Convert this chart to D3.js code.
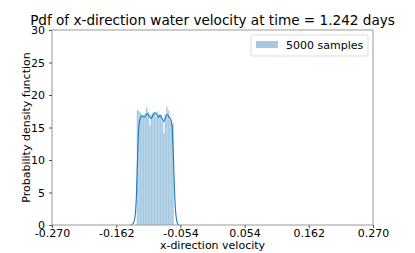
<!DOCTYPE html>
<html>
<head>
<meta charset="utf-8">
<script src="https://cdn.jsdelivr.net/npm/d3@7"></script>
<style>
  body { margin: 0; background: #fff; }
  text { font-family: "DejaVu Sans", sans-serif; fill: #000; }
</style>
</head>
<body>
<svg class="view" width="415" height="253"></svg>
<script>
// histogram bins (density), left edge of first bin and bin width
var binStart = -0.1275,
    binWidth = 0.0026;
var binValues = [17.7, 17.5, 17.3, 17.0, 16.8, 17.2, 18.1, 17.4, 15.4, 17.0, 17.3, 17.1,
                 16.6, 17.5, 16.9, 16.8, 15.9, 14.2, 17.0, 18.2, 17.6, 16.2, 15.8, 15.6];

// kde curve
var kdeX = [-0.1375, -0.133, -0.130, -0.128, -0.126, -0.124, -0.121, -0.118, -0.115, -0.112,
            -0.109, -0.106, -0.103, -0.100, -0.097, -0.094, -0.091, -0.088, -0.085, -0.082,
            -0.079, -0.076, -0.073, -0.070, -0.068, -0.066, -0.064, -0.062, -0.060, -0.058, -0.056];
var kdeY = [0, 0.3, 1.5, 4.5, 10.5, 15.0, 16.5, 16.8, 16.6, 16.9, 17.1, 16.7, 16.4, 16.9, 17.3,
            17.0, 16.6, 16.9, 16.4, 15.9, 16.6, 17.0, 16.6, 16.2, 15.2, 11.0, 5.5, 2.0, 0.6, 0.1, 0];

var xTicks = [-0.270, -0.162, -0.054, 0.054, 0.162, 0.270];
var yTicks = [0, 5, 10, 15, 20, 25, 30];

var svg = d3.select('.view');
var mLeft = 52, mRight = 373, mTop = 30, mBottom = 225;

var x = d3.scaleLinear().domain([-0.27, 0.27]).range([mLeft, mRight]);
var y = d3.scaleLinear().domain([0, 30]).range([mBottom, mTop]);

// bars
svg.append('g')
    .selectAll('rect')
    .data(binValues)
    .enter().append('rect')
    .attr('x', function (d, i) { return x(binStart + i * binWidth); })
    .attr('width', function (d, i) { return x(binStart + (i + 1) * binWidth) - x(binStart + i * binWidth); })
    .attr('y', function (d) { return y(d); })
    .attr('height', function (d) { return y(0) - y(d); })
    .attr('fill', '#1f77b4')
    .attr('fill-opacity', 0.4)
    .attr('stroke', '#fff')
    .attr('stroke-opacity', 0.35)
    .attr('stroke-width', 0.3);

// kde
var line = d3.line()
    .x(function (d, i) { return x(kdeX[i]); })
    .y(function (d) { return y(d); })
    .curve(d3.curveMonotoneX);
svg.append('path')
    .datum(kdeY)
    .attr('d', line)
    .attr('fill', 'none')
    .attr('stroke', '#1f77b4')
    .attr('stroke-width', 1.1);

// frame
svg.append('rect')
    .attr('x', mLeft).attr('y', mTop)
    .attr('width', mRight - mLeft).attr('height', mBottom - mTop)
    .attr('fill', 'none')
    .attr('stroke', '#999')
    .attr('stroke-width', 1);

// axes
var fmt = d3.format('.3f');
var xAxis = svg.append('g')
    .attr('transform', 'translate(0,' + mBottom + ')')
    .call(d3.axisBottom(x).tickValues(xTicks).tickSize(3).tickSizeOuter(0).tickPadding(1)
        .tickFormat(function (d) { return fmt(d).replace('\u2212', '-'); }));
var yAxis = svg.append('g')
    .attr('transform', 'translate(' + mLeft + ',0)')
    .call(d3.axisLeft(y).tickValues(yTicks).tickSize(3).tickSizeOuter(0));
[xAxis, yAxis].forEach(function (a) {
    a.select('.domain').remove();
    a.selectAll('line').attr('stroke', '#555');
    a.selectAll('text').attr('font-size', 11).attr('font-family', 'DejaVu Sans').attr('fill', '#000');
});
yAxis.selectAll('text').attr('dx', '-0.1em');

// labels
svg.append('text')
    .attr('x', (mLeft + mRight) / 2).attr('y', 25)
    .attr('text-anchor', 'middle')
    .attr('font-size', 13.6)
    .text('Pdf of x-direction water velocity at time = 1.242 days');
svg.append('text')
    .attr('x', (mLeft + mRight) / 2).attr('y', 249)
    .attr('text-anchor', 'middle')
    .attr('font-size', 11)
    .text('x-direction velocity');
svg.append('text')
    .attr('transform', 'translate(29.5,' + ((mTop + mBottom) / 2) + ') rotate(-90)')
    .attr('text-anchor', 'middle')
    .attr('font-size', 11)
    .text('Probability density function');

// legend
var lg = svg.append('g');
lg.append('rect')
    .attr('x', 251).attr('y', 35).attr('width', 117).attr('height', 21).attr('rx', 2)
    .attr('fill', '#fff').attr('fill-opacity', 0.8)
    .attr('stroke', '#ddd').attr('stroke-width', 1);
lg.append('rect')
    .attr('x', 256).attr('y', 41).attr('width', 22).attr('height', 7)
    .attr('fill', '#1f77b4').attr('fill-opacity', 0.4);
lg.append('text')
    .attr('x', 286).attr('y', 49)
    .attr('font-size', 11)
    .text('5000 samples');
</script>
</body>
</html>
